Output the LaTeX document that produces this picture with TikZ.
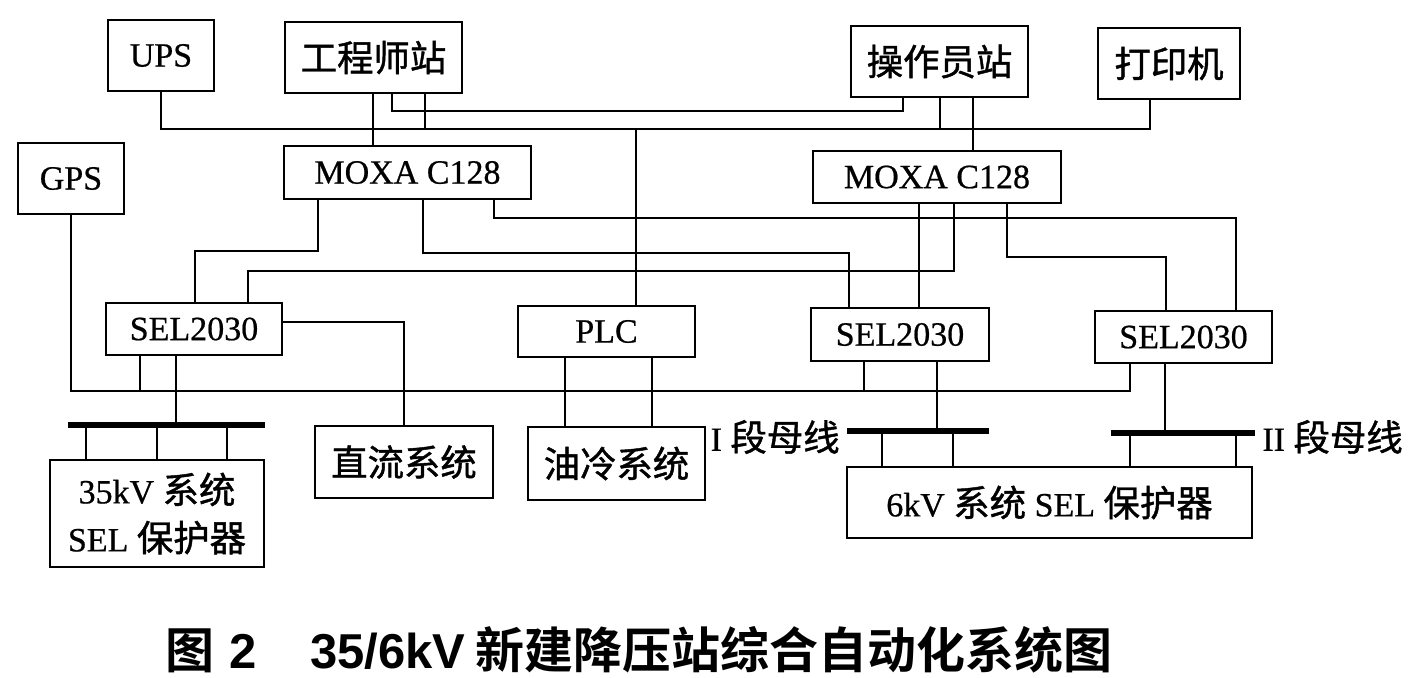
\documentclass[tikz,border=0pt]{standalone}
\usepackage{fontspec}
\setmainfont{Liberation Serif}[FakeBold=0.6]
\newfontfamily\cjk{Noto Sans CJK SC}[Scale=1.07, FakeBold=1.2]
\newfontfamily\capsans{Liberation Sans}
\newfontfamily\capcjk{Noto Sans CJK SC Bold}
\newcommand\boxat[6]{\node[box, minimum width={(#4-#2)*0.5pt}, minimum height={(#5-#3)*0.5pt}] (#1) at ({(#2+#4)/2},{(#3+#5)/2}) {#6};}
\begin{document}
\begin{tikzpicture}[x=0.5pt,y=-0.5pt,
  box/.style={draw, line width=1.2pt, inner sep=0pt, align=center,
    font=\fontsize{17}{24}\selectfont},
  wire/.style={line width=1pt},
  busbar/.style={line width=2.8pt},
  lbl/.style={inner sep=0pt, font=\fontsize{17}{20}\selectfont}]
\useasboundingbox (0,0) rectangle (1425,677);
% boxes
\boxat{ups}{108}{20}{214}{91}{UPS}
\boxat{eng}{285}{22}{462}{93}{\cjk 工程师站}
\boxat{opr}{851}{26}{1028}{97}{\cjk 操作员站}
\boxat{prn}{1098}{28}{1240}{99}{\cjk 打印机}
\boxat{gps}{18}{143}{124}{214}{GPS}
\boxat{moxaA}{284}{146}{531}{199}{MOXA C128}
\boxat{moxaB}{813}{151}{1061}{203}{MOXA C128}
\boxat{selA}{106}{303}{282}{355}{SEL2030}
\boxat{plc}{518}{306}{695}{357}{PLC}
\boxat{selB}{811}{308}{989}{361}{SEL2030}
\boxat{selC}{1095}{311}{1272}{363}{SEL2030}
\boxat{kvA}{50}{460}{264}{567}{35kV {\cjk 系统}\\SEL {\cjk 保护器}}
\boxat{dc}{315}{426}{493}{498}{\cjk 直流系统}
\boxat{oil}{528}{427}{705}{500}{\cjk 油冷系统}
\boxat{kvB}{847}{467}{1252}{538}{6kV {\cjk 系统} SEL {\cjk 保护器}}
% bus bars
\coordinate (bbAw) at (68,425);  \coordinate (bbAe) at (265,425);
\coordinate (bbBw) at (847,431); \coordinate (bbBe) at (989,431);
\coordinate (bbCw) at (1111,433);\coordinate (bbCe) at (1255,433);
\draw[busbar] (bbAw) -- (bbAe);
\draw[busbar] (bbBw) -- (bbBe);
\draw[busbar] (bbCw) -- (bbCe);
\node[lbl, anchor=east] (lblB) at (840,437) {I {\cjk 段母线}};
\node[lbl, anchor=west] (lblC) at (1262,437) {II {\cjk 段母线}};
% upper bus
\draw[wire] (ups.south) |- (1150,129) -- (1150,129 |- prn.south);
\draw[wire] (eng.south -| 373,0) -- (moxaA.north -| 373,0);
\draw[wire] (eng.south -| 392,0) |- (903,111) -- (opr.south -| 903,0);
\draw[wire] (eng.south -| 425,0) -- (425,129);
\draw[wire] (opr.south -| 940,0) -- (940,129);
\draw[wire] (opr.south -| 973,0) -- (moxaB.north -| 973,0);
\draw[wire] (636,129) -- (plc.north -| 636,0);
% MOXA to SEL
\draw[wire] (moxaA.south -| 318,0) |- (195,251) -- (selA.north -| 195,0);
\draw[wire] (moxaA.south -| 423,0) |- (849,253) -- (selB.north -| 849,0);
\draw[wire] (moxaA.south -| 494,0) |- (1236,218) -- (selC.north -| 1236,0);
\draw[wire] (moxaB.south -| 954,0) |- (248,271) -- (selA.north -| 248,0);
\draw[wire] (moxaB.south -| 919,0) -- (selB.north -| 919,0);
\draw[wire] (moxaB.south -| 1007,0) |- (1166,257) -- (selC.north -| 1166,0);
% lower
\draw[wire] (selA.east |- 0,322) -| (dc.north -| 404,0);
\draw[wire] (gps.south) |- (1130,391) -- (selC.south -| 1130,0);
\draw[wire] (selA.south -| 140,0) -- (140,391);
\draw[wire] (selA.south -| 176,0) -- (176,425);
\draw[wire] (selB.south -| 864,0) -- (864,391);
\draw[wire] (selB.south -| 937,0) -- (937,431);
\draw[wire] (selC.south -| 1165,0) -- (1165,433);
\draw[wire] (plc.south -| 565,0) -- (oil.north -| 565,0);
\draw[wire] (plc.south -| 652,0) -- (oil.north -| 652,0);
\foreach \x in {86,157,227} \draw[wire] (\x,425) -- (kvA.north -| \x,0);
\foreach \x in {882,953} \draw[wire] (\x,431) -- (kvB.north -| \x,0);
\foreach \x in {1130,1236} \draw[wire] (\x,433) -- (kvB.north -| \x,0);
% caption
\node[anchor=west, inner sep=0pt, font=\fontsize{24.5}{28}\selectfont] (cap) at (165,650)
  {{\capcjk 图}\hspace{0.3em}{\capsans\bfseries 2}\hspace{1.1em}{\capsans\bfseries 35/6kV}\hspace{0.2em}{\capcjk 新建降压站综合自动化系统图}};
\end{tikzpicture}
\end{document}
